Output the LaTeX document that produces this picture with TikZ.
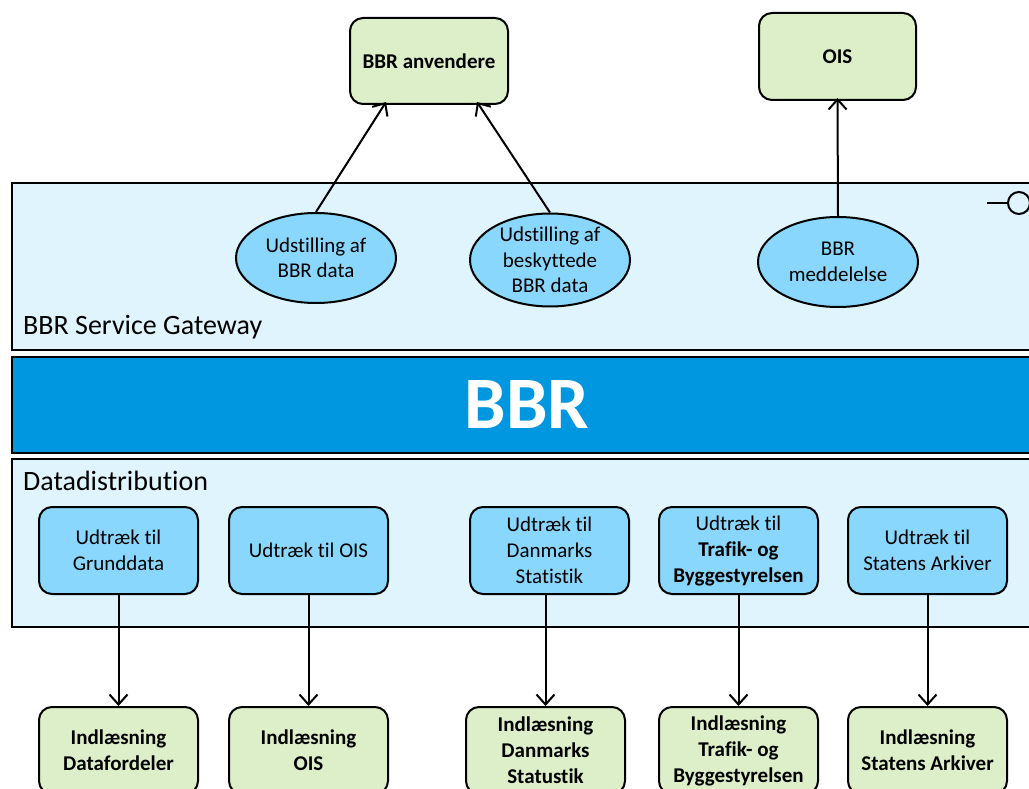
\documentclass[tikz,border=0pt]{standalone}
\usepackage{fontspec}
\setmainfont{Carlito}[Ligatures=NoCommon]
\usetikzlibrary{arrows.meta,shapes.geometric}

\definecolor{bandblue}{RGB}{224,244,253}
\definecolor{bbrblue}{RGB}{0,150,224}
\definecolor{boxblue}{RGB}{137,215,253}
\definecolor{boxgreen}{RGB}{220,239,200}

\begin{document}
\begin{tikzpicture}[x=1pt,y=-1pt,
	band/.style={shape=rectangle,draw=black,line width=2pt,minimum width=1040pt,anchor=north west,inner sep=0pt},
	udtraek/.style={shape=rectangle,rounded corners=13pt,draw=black,line width=2pt,fill=boxblue,minimum width=159pt,minimum height=87pt,inner sep=0pt,align=center,font=\fontsize{21}{26}\selectfont},
	indl/.style={udtraek,fill=boxgreen,font=\fontsize{21}{26}\selectfont\bfseries},
	service/.style={shape=ellipse,draw=black,line width=2pt,fill=boxblue,minimum width=160pt,minimum height=90pt,inner sep=0pt,align=center,font=\fontsize{21}{25.5}\selectfont},
	bandlabel/.style={anchor=west,inner sep=0pt,font=\fontsize{28}{32}\selectfont},
	arr/.style={-{Straight Barb[length=10pt,width=18pt,line width=2pt]},line width=2pt}]

	\useasboundingbox (0,0) rectangle (1029,789);
	\clip (0,0) rectangle (1029,789);

	% bands
	\node[band,fill=bandblue,minimum height=167pt] (gateway) at (11,182) {};
	\node[band,fill=bbrblue,minimum height=96pt] (bbr) at (11,356) {};
	\node[band,fill=bandblue,minimum height=168pt] (distribution) at (11,458) {};

	\node[bandlabel] (gwlabel) at (23,327) {BBR Service Gateway};
	\node[bandlabel] (distlabel) at (23,481) {Datadistribution};
	\node[text=white,font=\fontsize{74}{80}\selectfont\bfseries] (bbrlabel) at (527,405) {BBR};

	% interface symbol
	\node[shape=circle,draw=black,line width=2pt,minimum size=22pt,inner sep=0pt] (port) at (1019,203) {};
	\coordinate (portend) at (987,203);
	\draw[line width=2pt] (portend) -- (port);

	% consumers
	\node[indl,minimum width=158pt,minimum height=86pt] (anv) at (429,61) {BBR anvendere};
	\node[indl,minimum width=157pt] (ois) at (837.5,56.5) {OIS};

	% services
	\node[service] (udst) at (316,258) {Udstilling af\\BBR data};
	\node[service] (beskyt) at (550,260) {Udstilling af\\beskyttede\\BBR data};
	\node[service] (medd) at (838,262) {BBR\\meddelelse};

	\path[arr] (udst.north) edge ([xshift=37pt,yshift=3pt]anv.south west);
	\path[arr] (beskyt.north) edge ([xshift=-32pt,yshift=3pt]anv.south east);
	\path[arr] (medd.north) edge ([yshift=3pt]ois.south);

	% extracts
	\node[udtraek] (grund) at (118.5,550.5) {Udtræk til\\Grunddata};
	\node[udtraek] (udois) at (308.5,550.5) {Udtræk til OIS};
	\node[udtraek] (dst) at (549.5,550.5) {Udtræk til\\Danmarks\\Statistik};
	\node[udtraek] (tbst) at (738.5,550.5) {Udtræk til\\\textbf{Trafik- og}\\\textbf{Byggestyrelsen}};
	\node[udtraek] (arkiv) at (927.5,550.5) {Udtræk til\\Statens Arkiver};

	% loaders
	\node[indl] (indgrund) at (118.5,750.5) {Indlæsning\\Datafordeler};
	\node[indl] (indois) at (308.5,750.5) {Indlæsning\\OIS};
	\node[indl] (inddst) at (545.5,750.5) {Indlæsning\\Danmarks\\Statustik};
	\node[indl] (indtbst) at (738.5,750.5) {Indlæsning\\Trafik- og\\Byggestyrelsen};
	\node[indl] (indarkiv) at (927.5,750.5) {Indlæsning\\Statens Arkiver};

	\path[arr] (grund) edge (indgrund);
	\path[arr] (udois) edge (indois);
	\path[arr] ([xshift=-4pt]dst.south) edge (inddst);
	\path[arr] (tbst) edge (indtbst);
	\path[arr] (arkiv) edge (indarkiv);

\end{tikzpicture}
\end{document}
